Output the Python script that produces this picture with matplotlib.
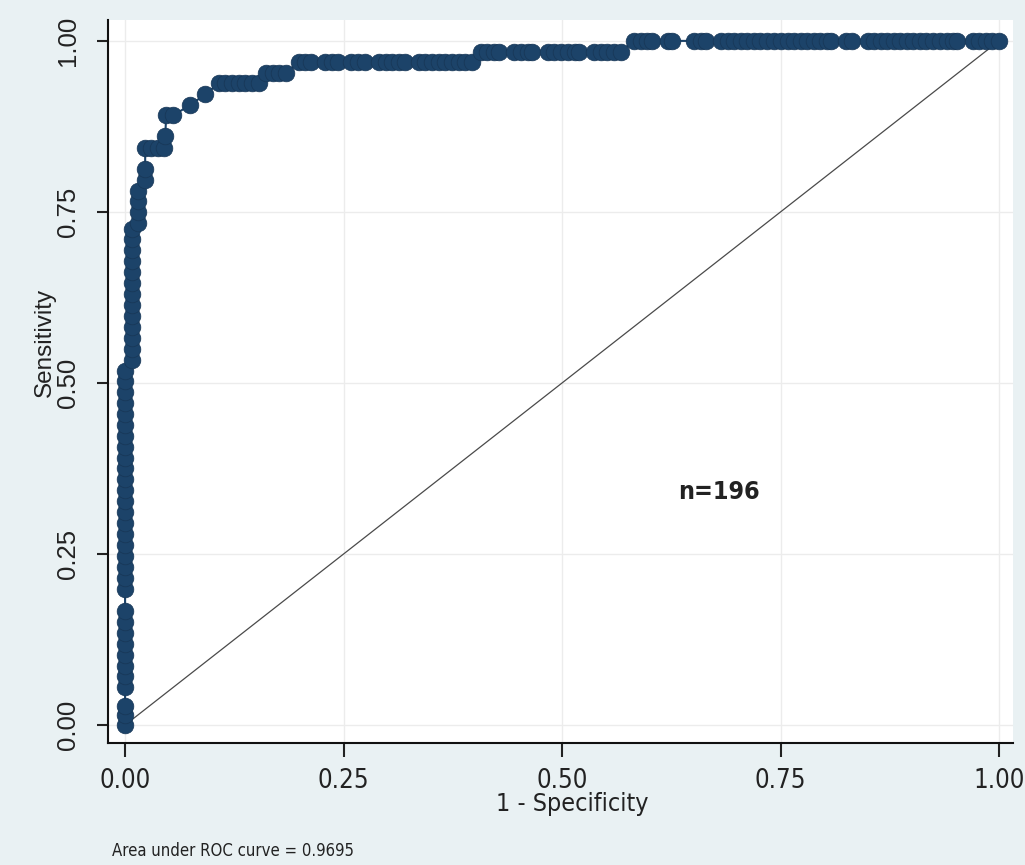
import matplotlib
matplotlib.use("Agg")
import matplotlib.pyplot as plt
from matplotlib import font_manager

# ROC points (1 - specificity, sensitivity)
fpr = [0.0, 0.0, 0.0,
       0.0, 0.0, 0.0, 0.0, 0.0, 0.0, 0.0, 0.0,
       0.0, 0.0, 0.0, 0.0, 0.0, 0.0, 0.0, 0.0, 0.0, 0.0, 0.0,
       0.0, 0.0, 0.0, 0.0, 0.0, 0.0, 0.0, 0.0, 0.0, 0.0,
       0.008, 0.008, 0.008, 0.008, 0.008, 0.008, 0.008, 0.008, 0.008, 0.008, 0.008, 0.008, 0.008,
       0.015, 0.015, 0.015, 0.015,
       0.023, 0.023,
       0.023, 0.030, 0.038, 0.045,
       0.046, 0.047, 0.055,
       0.074, 0.092,
       0.107, 0.114, 0.122, 0.130, 0.137, 0.145, 0.153,
       0.161, 0.169, 0.176, 0.184,
       0.199, 0.206, 0.213, 0.229, 0.237, 0.244, 0.259, 0.267, 0.275, 0.290, 0.298,
       0.305, 0.313, 0.320, 0.336, 0.343, 0.351, 0.359, 0.366, 0.374, 0.382, 0.389, 0.397,
       0.407, 0.414, 0.422, 0.428, 0.445, 0.453, 0.461, 0.466, 0.484, 0.491, 0.499, 0.507,
       0.515, 0.519, 0.537, 0.544, 0.552, 0.560, 0.567,
       0.582, 0.590, 0.597, 0.603, 0.621, 0.626, 0.651, 0.659, 0.665,
       0.682, 0.690, 0.697, 0.705, 0.712, 0.720, 0.727, 0.735, 0.742, 0.750, 0.758, 0.765,
       0.773, 0.780, 0.788, 0.795, 0.803, 0.808, 0.825, 0.832,
       0.850, 0.857, 0.865, 0.872, 0.880, 0.887, 0.895, 0.902, 0.910, 0.917, 0.925, 0.932,
       0.940, 0.947, 0.952, 0.970, 0.977, 0.985, 0.992, 1.0]
tpr = [0.0, 0.014, 0.028,
       0.056, 0.071, 0.087, 0.103, 0.119, 0.135, 0.151, 0.167,
       0.199, 0.215, 0.231, 0.247, 0.263, 0.279, 0.295, 0.311, 0.327, 0.343, 0.359,
       0.375, 0.391, 0.407, 0.423, 0.439, 0.455, 0.471, 0.487, 0.503, 0.518,
       0.534, 0.550, 0.566, 0.582, 0.598, 0.614, 0.630, 0.646, 0.662, 0.678, 0.694, 0.710, 0.725,
       0.734, 0.750, 0.766, 0.781,
       0.797, 0.813,
       0.844, 0.844, 0.844, 0.844,
       0.861, 0.891, 0.891,
       0.906, 0.922,
       0.938, 0.938, 0.938, 0.938, 0.938, 0.938, 0.938,
       0.953, 0.953, 0.953, 0.953,
       0.969, 0.969, 0.969, 0.969, 0.969, 0.969, 0.969, 0.969, 0.969, 0.969, 0.969,
       0.969, 0.969, 0.969, 0.969, 0.969, 0.969, 0.969, 0.969, 0.969, 0.969, 0.969, 0.969,
       0.984, 0.984, 0.984, 0.984, 0.984, 0.984, 0.984, 0.984, 0.984, 0.984, 0.984, 0.984,
       0.984, 0.984, 0.984, 0.984, 0.984, 0.984, 0.984,
       1.0, 1.0, 1.0, 1.0, 1.0, 1.0, 1.0, 1.0, 1.0,
       1.0, 1.0, 1.0, 1.0, 1.0, 1.0, 1.0, 1.0, 1.0, 1.0, 1.0, 1.0,
       1.0, 1.0, 1.0, 1.0, 1.0, 1.0, 1.0, 1.0,
       1.0, 1.0, 1.0, 1.0, 1.0, 1.0, 1.0, 1.0, 1.0, 1.0, 1.0, 1.0,
       1.0, 1.0, 1.0, 1.0, 1.0, 1.0, 1.0, 1.0]

ticks = [0.0, 0.25, 0.5, 0.75, 1.0]
tick_labels = ["0.00", "0.25", "0.50", "0.75", "1.00"]
auc_note = "Area under ROC curve = 0.9695"
n_note = "n=196"

bg = "#e9f1f3"
navy = "#1c4369"

installed = {f.name for f in font_manager.fontManager.ttflist}
narrow = "Liberation Sans Narrow" if "Liberation Sans Narrow" in installed else "DejaVu Sans"
regular = "Liberation Sans"

fig = plt.figure(figsize=(10.25, 8.65), dpi=100, facecolor=bg)
ax = fig.add_axes([0.1054, 0.141, 0.8829, 0.836])
ax.set_facecolor("white")

# grid
for t in ticks:
    ax.axhline(t, color="#ececec", lw=1.0, zorder=0)
    ax.axvline(t, color="#ececec", lw=1.0, zorder=0)

# reference line
ax.plot([0, 1], [0, 1], color="#4a4a4a", lw=0.9, zorder=1)

# ROC curve
ax.plot(fpr, tpr, "-", color=navy, lw=1.5, marker="o", markersize=12,
        markerfacecolor=navy, markeredgecolor="#173656", markeredgewidth=0.5, zorder=3)

ax.set_xlim(-0.0195, 1.016)
ax.set_ylim(-0.0263, 1.0307)

for s in ["top", "right"]:
    ax.spines[s].set_visible(False)
for s in ["left", "bottom"]:
    ax.spines[s].set_linewidth(1.5)
    ax.spines[s].set_color("#111111")

ax.set_xticks(ticks)
ax.set_xticklabels(tick_labels, family=narrow, fontsize=18.5, stretch="condensed")
ax.set_yticks(ticks)
ax.set_yticklabels(tick_labels, family=regular, fontsize=18.5, rotation=90, va="center")
ax.tick_params(axis="x", length=10, width=1.5, pad=8, colors="#222222")
ax.tick_params(axis="y", length=8, width=1.5, pad=12, colors="#222222")

fig.text(572 / 1025, 1 - 811 / 865, "1 - Specificity", family=narrow, stretch="condensed",
         fontsize=18, ha="center", va="baseline", color="#222222")
fig.text(45 / 1025, 1 - 342 / 865, "Sensitivity", family=regular, fontsize=17.5,
         rotation=90, ha="center", va="center", color="#222222")
fig.text(112 / 1025, 1 - 851 / 865, auc_note, family=narrow, stretch="condensed",
         fontsize=12, ha="left", va="center", color="#222222")
ax.text(0.68, 0.34, n_note, family=narrow, stretch="condensed", fontweight="bold",
        fontsize=18, ha="center", va="center", color="#222222")

fig.savefig("out.png", dpi=100, facecolor=bg)
